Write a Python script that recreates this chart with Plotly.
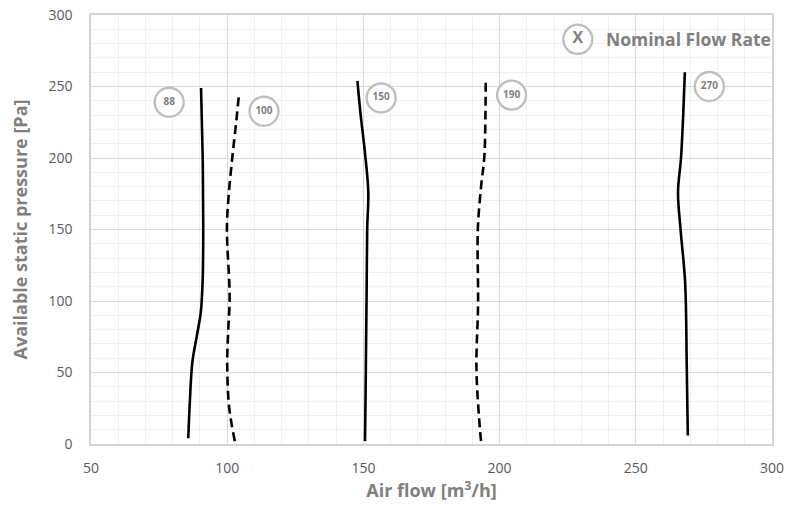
import plotly.graph_objects as go

# Curve data (air flow [m3/h], pressure [Pa])
c88_x = [85.7, 86.3, 87.2, 88.8, 90.3, 91.0, 91.2, 91.1, 91.0, 90.4]
c88_y = [4, 30, 57, 75, 92, 115, 150, 180, 201, 249]

c100_x = [102.8, 100.7, 100.0, 100.4, 100.9, 99.9, 100.5, 101.9, 103.3, 104.3]
c100_y = [2, 26, 57, 80, 103, 150, 173, 201, 225, 244]

c150_x = [150.6, 150.8, 151.0, 151.2, 151.4, 151.8, 150.5, 149.0, 147.8]
c150_y = [2, 35, 71.5, 110, 151, 176, 205, 230, 254]

c190_x = [193.2, 192.8, 191.5, 192.1, 192.0, 193.2, 194.4, 194.8, 194.9]
c190_y = [2, 10, 52, 98.6, 150, 180, 201, 230, 255.7]

c270_x = [269.1, 268.9, 268.7, 268.1, 266.5, 265.5, 266.6, 267.4, 268.0]
c270_y = [6, 30, 55, 113.5, 148.5, 176, 200, 230, 260]

label_text = ["88", "100", "150", "190", "270"]
label_x = [78.7, 113.5, 156.5, 204.4, 277.0]
label_y = [239, 232.7, 242, 244, 250]

legend_x = [228.7]
legend_y = [283]

L, R, T, B = 91, 26, 15, 62
W, H = 798, 506
pw, ph = W - L - R, H - T - B

fig = go.Figure()

curves = [
    (c88_x, c88_y, "solid"),
    (c100_x, c100_y, "9px,5px"),
    (c150_x, c150_y, "solid"),
    (c190_x, c190_y, "9px,5px"),
    (c270_x, c270_y, "solid"),
]
for xs, ys, dash in curves:
    fig.add_trace(go.Scatter(
        x=xs, y=ys, mode="lines",
        line=dict(color="black", width=2.6, dash=dash, shape="spline", smoothing=1.0),
        hoverinfo="skip", showlegend=False,
    ))

fig.add_trace(go.Scatter(
    x=label_x, y=label_y, mode="markers+text",
    text=["<b>" + t + "</b>" for t in label_text], textposition="middle center",
    textfont=dict(family="Open Sans", size=10, color="#7f7f7f"),
    marker=dict(symbol="circle", size=29, color="white",
                line=dict(color="#bfbfbf", width=2.4)),
    showlegend=False, hoverinfo="skip",
))

fig.add_trace(go.Scatter(
    x=legend_x, y=legend_y, mode="markers+text",
    text=["<b>X</b>"], textposition="middle center",
    textfont=dict(family="Open Sans", size=16, color="#7f7f7f"),
    marker=dict(symbol="circle", size=29, color="white",
                line=dict(color="#bfbfbf", width=2.4)),
    showlegend=False, hoverinfo="skip",
))

fig.add_annotation(
    x=(604 - L) / pw, y=(444 - 39) / ph, xref="paper", yref="paper",
    text="<b>Nominal Flow Rate</b>",
    showarrow=False, xanchor="left", yanchor="middle",
    font=dict(family="Open Sans", size=17.5, color="#7f7f7f"),
)

fig.update_layout(
    width=W, height=H,
    margin=dict(l=L, r=R, t=T, b=B, autoexpand=False),
    plot_bgcolor="white", paper_bgcolor="white",
    font=dict(family="Open Sans", color="#595959", size=14),
    xaxis=dict(
        range=[50, 300], dtick=50, tick0=50, automargin=False,
        showgrid=True, gridcolor="#d9d9d9", gridwidth=1,
        minor=dict(dtick=10, showgrid=True, gridcolor="#f0f0f0", gridwidth=1),
        showline=True, linecolor="#d4d4d4", linewidth=1.5, mirror=True,
        zeroline=False, ticks="outside", ticklen=10, tickcolor="rgba(0,0,0,0)",
        title=dict(text="<b>Air flow [m<sup>3</sup>/h]</b>", font=dict(size=18, color="#7f7f7f"), standoff=5),
        tickfont=dict(size=14, color="#595959"),
    ),
    yaxis=dict(
        range=[0, 300], dtick=50, automargin=False,
        showgrid=True, gridcolor="#d9d9d9", gridwidth=1,
        minor=dict(dtick=10, showgrid=True, gridcolor="#f0f0f0", gridwidth=1),
        showline=True, linecolor="#d4d4d4", linewidth=1.5, mirror=True,
        zeroline=False, ticks="outside", ticklen=14, tickcolor="rgba(0,0,0,0)",
        title=dict(text="<b>Available static pressure [Pa]</b>", font=dict(size=18, color="#7f7f7f"), standoff=16),
        tickfont=dict(size=14, color="#595959"),
    ),
)

fig.write_html("out.html", config={"displayModeBar": False},
               post_script="document.body.style.margin='0';document.body.style.padding='0';")
